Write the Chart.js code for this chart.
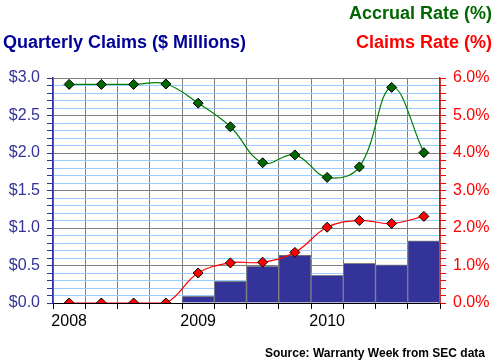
<!DOCTYPE html>
<html>
<head>
<meta charset="utf-8">
<script src="https://cdn.jsdelivr.net/npm/chart.js@4/dist/chart.umd.min.js"></script>
<style>
  body { margin: 0; background: #fff; }
  #wrap { position: relative; width: 497px; height: 364px; font-family: Arial, "Liberation Sans", sans-serif; }
  .lbl { position: absolute; font-weight: bold; white-space: nowrap; line-height: 1; }
</style>
</head>
<body>
<div id="wrap">
  <canvas id="myChart"></canvas>
  <div class="lbl" style="right:5px; top:4px; font-size:18px; color:#006600;">Accrual Rate (%)</div>
  <div class="lbl" style="right:5px; top:33px; font-size:18px; color:#ff0000;">Claims Rate (%)</div>
  <div class="lbl" style="left:3px; top:33px; font-size:18px; color:#000099;">Quarterly Claims ($ Millions)</div>
  <div class="lbl" style="right:12px; top:347px; font-size:12px; color:#000;">Source: Warranty Week from SEC data</div>
</div>
<script>
// quarters 2008 Q1 .. 2010 Q4
var quarters = ['2008 Q1', '2008 Q2', '2008 Q3', '2008 Q4', '2009 Q1', '2009 Q2', '2009 Q3', '2009 Q4', '2010 Q1', '2010 Q2', '2010 Q3', '2010 Q4'];
var tickLabels = ['2008', '', '', '', '2009', '', '', '', '2010', '', '', ''];
var claims = [null, null, null, null, 0.09, 0.29, 0.49, 0.64, 0.37, 0.53, 0.51, 0.83]; // $ millions
var claimsRate = [0, 0, 0, 0, 0.80, 1.07, 1.09, 1.35, 2.02, 2.20, 2.12, 2.31]; // %
var accrualRate = [5.83, 5.83, 5.83, 5.84, 5.33, 4.70, 3.74, 3.95, 3.35, 3.63, 5.75, 4.01]; // %

function isMajor(v, step) {
  var r = v / step;
  return Math.abs(r - Math.round(r)) < 1e-6;
}

var ctx = document.getElementById('myChart').getContext('2d');
var myChart = new Chart(ctx, {
  data: {
    labels: quarters,
    datasets: [{
      type: 'line',
      label: 'Accrual Rate (%)',
      yAxisID: 'y2',
      data: accrualRate,
      borderColor: '#008000',
      borderWidth: 1.2,
      tension: 0.4,
      pointStyle: 'rectRot',
      pointRadius: 5,
      pointBackgroundColor: '#006600',
      pointBorderColor: '#000',
      pointBorderWidth: 1,
      order: 1
    }, {
      type: 'line',
      label: 'Claims Rate (%)',
      yAxisID: 'y2',
      data: claimsRate,
      borderColor: '#ff0000',
      borderWidth: 1.2,
      tension: 0.4,
      pointStyle: 'rectRot',
      pointRadius: 5,
      pointBackgroundColor: '#ff0000',
      pointBorderColor: '#000',
      pointBorderWidth: 1,
      order: 2
    }, {
      type: 'bar',
      label: 'Quarterly Claims ($ Millions)',
      yAxisID: 'y',
      data: claims,
      backgroundColor: '#333399',
      borderColor: '#808080',
      borderWidth: 1,
      barPercentage: 1,
      categoryPercentage: 1,
      order: 3
    }]
  },
  options: {
    responsive: true,
    maintainAspectRatio: false,
    animation: false,
    layout: { padding: { top: 78, left: 0, right: 0, bottom: 0 } },
    plugins: {
      legend: { display: false },
      tooltip: { enabled: false }
    },
    scales: {
      x: {
        offset: true,
        afterFit: function (s) { s.height = 61; },
        grid: { offset: true, color: '#808080', tickColor: '#000', tickLength: 6 },
        border: { color: '#000', width: 1 },
        ticks: {
          autoSkip: false,
          maxRotation: 0,
          padding: 3,
          color: '#000',
          font: { family: 'Arial, "Liberation Sans"', size: 16 },
          callback: function (v, i) { return tickLabels[i]; }
        }
      },
      y: {
        position: 'left',
        min: 0,
        max: 3,
        afterFit: function (s) { s.width = 53; },
        grid: {
          color: function (c) { return isMajor(c.tick.value, 0.5) ? '#808080' : '#99ccff'; },
          tickColor: '#333399',
          tickLength: 6
        },
        border: { color: '#333399', width: 1.5 },
        ticks: {
          stepSize: 0.1,
          autoSkip: false,
          padding: 7,
          color: '#333399',
          font: { family: 'Arial, "Liberation Sans"', size: 16 },
          callback: function (v) { return isMajor(v, 0.5) ? '$' + v.toFixed(1) : ''; }
        }
      },
      y2: {
        position: 'right',
        min: 0,
        max: 6,
        afterFit: function (s) { s.width = 57; },
        grid: { drawOnChartArea: false, tickColor: '#ff0000', tickLength: 6 },
        border: { color: '#ff0000', width: 1.5 },
        ticks: {
          stepSize: 0.2,
          autoSkip: false,
          padding: 7,
          color: '#ff0000',
          font: { family: 'Arial, "Liberation Sans"', size: 16 },
          callback: function (v) { return isMajor(v, 1) ? v.toFixed(1) + '%' : ''; }
        }
      }
    }
  }
});
</script>
</body>
</html>
